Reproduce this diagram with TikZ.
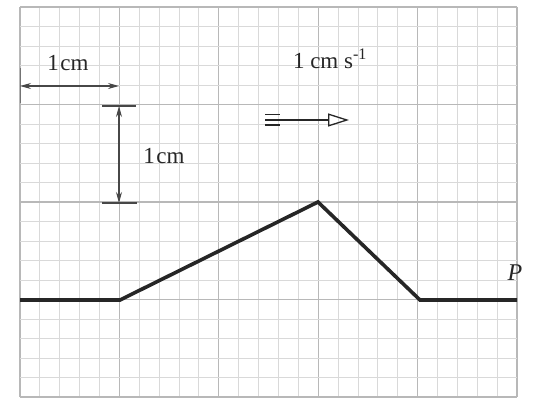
\documentclass[tikz,border=0pt]{standalone}
\usepackage{fontspec}
\setmainfont{Liberation Serif}
\usetikzlibrary{arrows.meta}
\tikzset{
  minorline/.style={draw=black!15, line width=0.9pt},
  majorline/.style={draw=black!28, line width=1.2pt},
  wave/.style={draw=black!85, line width=3.6pt, line join=miter},
  dimline/.style={draw=black!72, line width=1.2pt},
  tickline/.style={draw=black!55, line width=1pt},
  dimarrow/.style={dimline, {Stealth[length=11pt,width=6pt]}-{Stealth[length=11pt,width=6pt]}},
  lbl/.style={font=\fontsize{23}{25}\selectfont, text=black!85, inner sep=0pt},
}
\begin{document}
\begin{tikzpicture}[x=1pt,y=-1pt]
\useasboundingbox (0,0) rectangle (536,416);
\fill[white] (0,0) rectangle (536,416);
% grid
\foreach \i in {0,...,25}{
  \pgfmathsetmacro{\xx}{20+\i*19.88}
  \pgfmathtruncatemacro{\m}{mod(\i,5)}
  \ifnum\m=0 \draw[majorline] (\xx,7) -- (\xx,397);
  \else \draw[minorline] (\xx,7) -- (\xx,397); \fi
}
\foreach \j in {0,...,20}{
  \pgfmathsetmacro{\yy}{7+\j*19.5}
  \pgfmathtruncatemacro{\m}{mod(\j,5)}
  \ifnum\m=0 \draw[majorline] (20,\yy) -- (517,\yy);
  \else \draw[minorline] (20,\yy) -- (517,\yy); \fi
}
% wave
\coordinate (w0) at (20,300);
\coordinate (w1) at (120,300);
\coordinate (w2) at (318,202);
\coordinate (w3) at (420,300);
\coordinate (w4) at (517,300);
\draw[wave] (w0) -- (w1) -- (w2) -- (w3) -- (w4);
\node[lbl, font=\fontsize{24}{25}\selectfont\itshape] (P) at (515,273) {P};
% horizontal dimension
\coordinate (h0) at (20,86);
\coordinate (h1) at (119,86);
\coordinate (ht0) at (20,68);
\coordinate (ht1) at (20,103);
\draw[tickline] (ht0) -- (ht1);
\draw[dimarrow] (h0) -- (h1);
\node[lbl] (lh) at (68,63) {1\kern1.5pt cm};
% vertical dimension
\coordinate (v0) at (119,106);
\coordinate (v1) at (119,203);
\coordinate (vt0a) at (102,106);
\coordinate (vt0b) at (136,106);
\coordinate (vt1a) at (102,203);
\coordinate (vt1b) at (137,203);
\draw[dimline] (vt0a) -- (vt0b);
\draw[dimline] (vt1a) -- (vt1b);
\draw[dimarrow] (v0) -- (v1);
\node[lbl] (lv) at (164,156) {1\kern1.5pt cm};
% speed
\node[lbl] (sp) at (330,59) {1 cm s\textsuperscript{-1}};
\coordinate (a0) at (265,120);
\coordinate (a1) at (349,120);
\coordinate (s1a) at (265,114.5);
\coordinate (s1b) at (280,114.5);
\coordinate (s2a) at (265,125);
\coordinate (s2b) at (280,125);
\draw[black!85, line width=1.6pt] (s1a) -- (s1b);
\draw[black!85, line width=1.6pt] (s2a) -- (s2b);
\draw[black!85, line width=1.6pt, -{Triangle[open,length=21pt,width=13pt,line width=1.3pt]}] (a0) -- (a1);
\end{tikzpicture}
\end{document}
